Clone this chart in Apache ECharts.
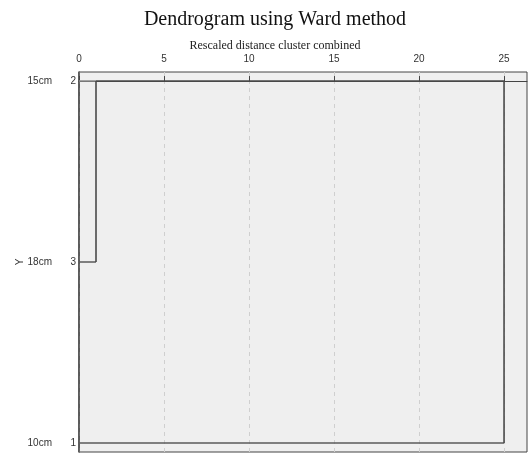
<!DOCTYPE html>
<html>
<head>
<meta charset="utf-8">
<script src="https://cdn.jsdelivr.net/npm/echarts@6/dist/echarts.min.js"></script>
<style>html,body{margin:0;padding:0;background:#fff}#c{width:528px;height:454px}</style>
</head>
<body>
<div id="c"></div>
<script>
// Leaves in display order (top to bottom)
var leafIds = ['2', '3', '1'];
var leafNames = ['15cm', '18cm', '10cm'];
// Merge steps: [leafIndexA, leafIndexB, rescaled distance]
var mergeA = [0, 0];
var mergeB = [1, 2];
var mergeDist = [1, 25];
var xTicks = [0, 5, 10, 15, 20, 25];

// Build dendrogram segments from data
var nodeX = leafIds.map(function () { return 0; });
var segments = [];
for (var i = 0; i < mergeDist.length; i++) {
  var a = mergeA[i], b = mergeB[i], d = mergeDist[i];
  segments.push({ pts: [[nodeX[a], a], [d, a]], color: i === 0 ? '#8a8a8a' : '#4a4a4a' });
  segments.push({ pts: [[nodeX[b], b], [d, b]], color: '#5a5a5a' });
  segments.push({ pts: [[d, a], [d, b]], color: '#4a4a4a' });
  nodeX[a] = d; nodeX[b] = d;
}

var series = segments.map(function (s) {
  return {
    type: 'line', data: s.pts, showSymbol: false, silent: true, animation: false,
    lineStyle: { color: s.color, width: 1.6 }
  };
});

var yLeafVals = leafIds.map(function (_, i) { return i; });

var chart = echarts.init(document.getElementById('c'));
chart.setOption({
  animation: false,
  backgroundColor: '#fff',
  title: [
    { text: 'Dendrogram using Ward method', left: 270, top: 5, textAlign: 'center',
      textStyle: { fontFamily: 'Liberation Serif, serif', fontSize: 20, fontWeight: 'normal', color: '#111' } },
    { text: 'Rescaled distance cluster combined', left: 270, top: 35, textAlign: 'center',
      textStyle: { fontFamily: 'Liberation Serif, serif', fontSize: 12, fontWeight: 'normal', color: '#222' } }
  ],
  grid: { left: 79, top: 72, right: 1, bottom: 2, show: true, backgroundColor: '#efefef', borderColor: '#444', borderWidth: 1 },
  xAxis: {
    type: 'value', position: 'top', min: 0, max: 26.35,
    axisLine: { show: true, lineStyle: { color: '#444', width: 1 } },
    axisTick: { show: true, inside: false, length: 5, customValues: xTicks, lineStyle: { color: '#444' } },
    axisLabel: { customValues: xTicks, fontSize: 10, color: '#333', margin: 8, fontFamily: 'Liberation Sans, Arial, sans-serif' },
    splitLine: { show: true, lineStyle: { color: '#cfcfcf', type: [4, 4], width: 1 } }
  },
  yAxis: [
    {
      type: 'value', inverse: true, min: -0.05, max: 2.05,
      axisLine: { show: true, lineStyle: { color: '#444', width: 1.5 } },
      axisTick: { show: false },
      splitLine: { show: false },
      axisLabel: { customValues: yLeafVals, margin: 3, fontSize: 10, color: '#333',
        fontFamily: 'Liberation Sans, Arial, sans-serif',
        formatter: function (v) { return leafIds[Math.round(v)]; } }
    },
    {
      type: 'value', inverse: true, min: -0.05, max: 2.05, position: 'left', offset: 19,
      axisLine: { show: false }, axisTick: { show: false }, splitLine: { show: false },
      name: 'Y', nameLocation: 'middle', nameGap: 35, nameRotate: 90, nameMoveOverlap: false,
      nameTextStyle: { fontSize: 10, color: '#333', fontFamily: 'Liberation Sans, Arial, sans-serif' },
      axisLabel: { customValues: yLeafVals, margin: 8, fontSize: 10, color: '#333',
        fontFamily: 'Liberation Sans, Arial, sans-serif',
        formatter: function (v) { return leafNames[Math.round(v)]; } }
    }
  ],
  series: series
});
</script>
</body>
</html>
